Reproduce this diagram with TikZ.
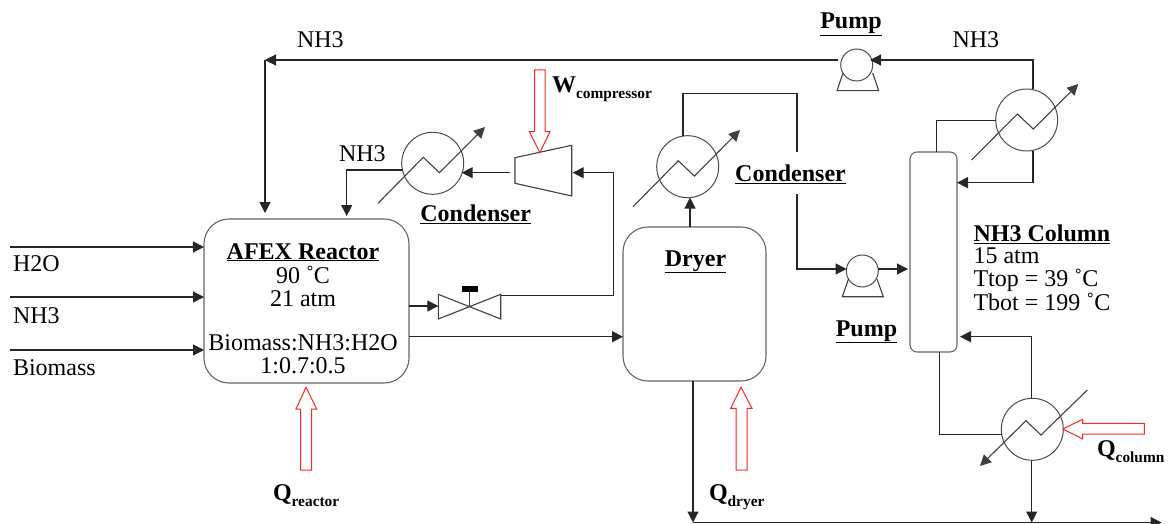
\documentclass[tikz,border=0pt]{standalone}
\usepackage{fontspec}
\setmainfont{Liberation Serif}
\usetikzlibrary{arrows.meta}
\tikzset{
  flow/.style={draw=black!85,line width=1.2pt,-{Triangle[length=11pt,width=11pt]}},
  pipe/.style={draw=black!85,line width=1.2pt},
  unit/.style={draw=black!60,line width=1.1pt,rounded corners=#1,inner sep=0pt,outer sep=0pt},
  exch/.style={circle,draw=black!70,line width=1pt,minimum size=62pt,inner sep=0pt,outer sep=0pt},
  pumpc/.style={circle,draw=black!70,line width=1pt,minimum size=32pt,inner sep=0pt,outer sep=0pt},
  heat/.style={draw=red!85,line width=1pt,fill=white},
  thin line/.style={draw=black!75,line width=1.1pt},
  label/.style={inner sep=0pt,outer sep=0pt,anchor=base west,font=\fontsize{24}{26}\selectfont},
  head/.style={inner sep=0pt,outer sep=0pt,anchor=base,font=\fontsize{24}{26}\selectfont\bfseries},
  block/.style={inner sep=0pt,outer sep=0pt,align=center,font=\fontsize{24}{26}\selectfont},
}
\newcommand{\ulab}[1]{\underline{#1}}
\newcommand{\Qsub}[2]{\textbf{#1}{\fontsize{15.4}{16}\selectfont\textbf{\raisebox{-6pt}{#2}}}}
\begin{document}
\begin{tikzpicture}[x=1pt,y=-1pt]
\useasboundingbox (0,0) rectangle (1173,524);
% units
\node[unit=25pt,minimum width=205pt,minimum height=164pt] (reactor) at (306.5,301) {};
\node[unit=25pt,minimum width=143pt,minimum height=154pt] (dryer) at (694.5,304) {};
\node[unit=7pt,minimum width=47pt,minimum height=200pt] (column) at (933.5,252) {};
\node[exch] (ex1) at (432.7,163.3) {};
\node[exch] (ex2) at (687.7,166.7) {};
\node[exch] (ex3) at (1026.7,120) {};
\node[exch] (ex4) at (1032.3,429.3) {};
\node[pumpc] (p1) at (856.7,65) {};
\node[pumpc] (p2) at (862.3,271) {};
% pump bases
\draw[thin line] (843,73) -- (837,90.7) -- (878.7,90.7) -- (872.7,73);
\draw[thin line] (848.5,279) -- (842.3,296.7) -- (883.3,296.7) -- (877,279);
% exchanger lines
\draw[thin line,-{Triangle[length=11pt,width=11pt]}] (378,203.3) -- (423.3,157.3) -- (439.4,172.7) -- (485,127);
\draw[thin line,-{Triangle[length=11pt,width=11pt]}] (633,206.7) -- (678.3,160.7) -- (694.4,176.1) -- (740,130);
\draw[thin line,-{Triangle[length=11pt,width=11pt]}] (971.7,160) -- (1017.3,114) -- (1033.3,129) -- (1078.3,84);
\draw[thin line,-{Triangle[length=11pt,width=11pt]}] (1087.3,390) -- (1041,435) -- (1026,420.7) -- (980,466);
% compressor
\node[inner sep=0pt] (comp) at (543,170) {};
\draw[thin line] (515,157.7) -- (571.7,145.3) -- (571.7,196) -- (515,183.3) -- cycle;
% valve
\node[inner sep=0pt] (valve) at (469.3,306) {};
\draw[thin line] (438.3,294.3) -- (500.7,319) -- (500.7,294.3) -- (438.3,319) -- cycle;
\draw[thin line] (valve.center) -- (469.3,290);
\fill[black] (461.7,285.7) rectangle (478.3,291.7);
% ports
\coordinate (h2oin) at (10,247);
\coordinate (nh3in) at (10,297);
\coordinate (biomin) at (10,350);
\coordinate (botend) at (1161.5,522.5);
\coordinate (botstart) at (693,522.5);
% inputs
\draw[flow] (h2oin) -- (reactor.west|-h2oin);
\draw[flow] (nh3in) -- (reactor.west|-nh3in);
\draw[flow] (biomin) -- (reactor.west|-biomin);
% top recycle
\coordinate (c1) at (838,60);
\coordinate (c2) at (265,60);
\coordinate (c3) at (265,213);
\draw[flow] (c1) -- (c2);
\draw[flow] (c2) -- (c3);
\coordinate (c4) at (1033,89.5);
\coordinate (c5) at (1033,60);
\coordinate (c6) at (870,60);
\draw[flow] (c4) -- (c5) -- (c6);
% ex3 column
\coordinate (c7) at (996,120.7);
\coordinate (c8) at (936.7,120.7);
\coordinate (c9) at (936.7,152);
\draw[pipe] (c7) -- (c8) -- (c9);
\coordinate (c10) at (1033,150.7);
\coordinate (c11) at (1033,182.7);
\coordinate (c12) at (957,182.7);
\draw[flow] (c10) -- (c11) -- (c12);
% column reboiler
\coordinate (c13) at (939.3,352);
\coordinate (c14) at (939.3,434.3);
\coordinate (c15) at (1001.7,434.3);
\draw[pipe] (c13) -- (c14) -- (c15);
\coordinate (c16) at (1031.7,398.3);
\coordinate (c17) at (1031.7,336.7);
\coordinate (c18) at (960,336.7);
\draw[flow] (c16) -- (c17) -- (c18);
\coordinate (c19) at (1031.7,460.7);
\coordinate (c20) at (1031.7,522.5);
\draw[flow] (c19) -- (c20);
\draw[flow] (botstart) -- (botend);
\coordinate (c21) at (693,381);
\draw[flow] (c21) -- (botstart);
% dryer
\coordinate (c22) at (690,227);
\coordinate (c23) at (690,197.5);
\draw[flow] (c22) -- (c23);
\coordinate (c24) at (683,136);
\coordinate (c25) at (683,93.5);
\coordinate (c26) at (797,93.5);
\coordinate (c27) at (797,152);
\draw[pipe] (c24) -- (c25) -- (c26) -- (c27);
\coordinate (c28) at (797,194);
\coordinate (c29) at (797,269);
\coordinate (c30) at (846.5,269);
\draw[flow] (c28) -- (c29) -- (c30);
\coordinate (c31) at (878,269);
\coordinate (c32) at (908,269);
\draw[flow] (c31) -- (c32);
\coordinate (c33) at (409,336.7);
\coordinate (c34) at (623,336.7);
\draw[flow] (c33) -- (c34);
% valve loop
\coordinate (c35) at (409,306);
\coordinate (c36) at (438.3,306);
\draw[flow] (c35) -- (c36);
\coordinate (c37) at (500.7,295.3);
\coordinate (c38) at (613.3,295.3);
\coordinate (c39) at (613.3,172.7);
\coordinate (c40) at (572.7,172.7);
\draw[flow] (c37) -- (c38) -- (c39) -- (c40);
\coordinate (c41) at (510,172.7);
\coordinate (c42) at (461.7,172.7);
\draw[flow] (c41) -- (c42);
\coordinate (c43) at (402.7,170);
\coordinate (c44) at (346.7,170);
\coordinate (c45) at (346.7,216);
\draw[flow] (c43) -- (c44) -- (c45);
% heat arrows
\draw[heat] (534.7,70) -- (545,70) -- (545,131.7) -- (550,131.7) -- (539.8,152.7) -- (529.3,131.7) -- (534.7,131.7) -- cycle;
\draw[heat] (300.7,470) -- (311.7,470) -- (311.7,409) -- (316.7,409) -- (306,387.3) -- (296,409) -- (300.7,409) -- cycle;
\draw[heat] (736,470) -- (747,470) -- (747,408.3) -- (752,408.3) -- (741,387.3) -- (730.7,408.3) -- (736,408.3) -- cycle;
\draw[heat] (1144.3,423.3) -- (1144.3,434) -- (1082.7,434) -- (1082.7,439) -- (1062.7,429) -- (1082.7,419.3) -- (1082.7,423.3) -- cycle;
% labels
\node[label] (t1) at (297,48) {NH3};
\node[label] (t2) at (952.5,48) {NH3};
\node[label] (t3) at (339,161) {NH3};
\node[label] (t4) at (13,271) {H2O};
\node[label] (t5) at (13,323) {NH3};
\node[label] (t6) at (13,375) {Biomass};
\node[head] (t7) at (851,29) {\ulab{Pump}};
\node[head] (t8) at (866.5,336) {\ulab{Pump}};
\node[head] (t9) at (475.7,222) {\ulab{Condenser}};
\node[head] (t10) at (790.5,181.5) {\ulab{Condenser}};
\node[head] (t11) at (695.5,266) {\ulab{Dryer}};
\node[head] (t12) at (303,259) {\ulab{AFEX Reactor}};
\node[block,anchor=base] (t13) at (303,283) {90 ˚C};
\node[block,anchor=base] (t14) at (303,306) {21 atm};
\node[block,anchor=base] (t15) at (303,350) {Biomass:NH3:H2O};
\node[block,anchor=base] (t16) at (303,373) {1:0.7:0.5};
\node[head,anchor=base west] (t17) at (973.5,241.5) {\ulab{NH3 Column}};
\node[label] (t18) at (973.5,263.5) {15 atm};
\node[label] (t19) at (973.5,286.7) {Ttop = 39 ˚C};
\node[label] (t20) at (973.5,310) {Tbot = 199 ˚C};
\node[label] (t21) at (552,93) {\Qsub{W}{compressor}};
\node[label] (t22) at (273,500) {\Qsub{Q}{reactor}};
\node[label] (t23) at (709,500.5) {\Qsub{Q}{dryer}};
\node[label] (t24) at (1097,456) {\Qsub{Q}{column}};
\end{tikzpicture}
\end{document}
